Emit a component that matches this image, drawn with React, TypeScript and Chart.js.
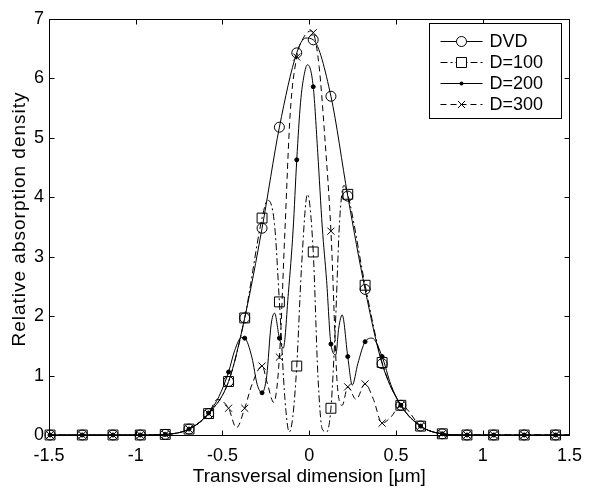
import React, { useEffect, useRef } from 'react';
import { Chart, registerables } from 'chart.js';

Chart.register(...registerables);

// ---- data ----
const seriesNames = ['DVD', 'D=100', 'D=200', 'D=300'];
const xTitle = 'Transversal dimension [μm]';
const yTitle = 'Relative absorption density';

const markerX = [-1.494, -1.308, -1.131, -0.974, -0.83, -0.693, -0.58, -0.465, -0.372, -0.272, -0.172, -0.072, 0.023, 0.125, 0.222, 0.322, 0.42, 0.528, 0.642, 0.767, 0.909, 1.063, 1.239, 1.42];

const dvdMarkers = [0, 0, 0, 0, 0.01, 0.1, 0.36, 0.9, 1.97, 3.48, 5.18, 6.43, 6.65, 5.7, 4.02, 2.45, 1.2, 0.5, 0.15, 0.02, 0, 0, 0, 0];
const d100Markers = [0, 0, 0, 0, 0.01, 0.1, 0.36, 0.9, 1.97, 3.65, 2.24, 1.16, 3.08, 0.45, 4.05, 2.52, 1.22, 0.5, 0.15, 0.02, 0, 0, 0, 0];
const d200Markers = [0, 0, 0, 0, 0.01, 0.1, 0.37, 1.06, 1.63, 0.71, 1.63, 4.63, 5.86, 1.53, 1.32, 1.57, 1.32, 0.5, 0.15, 0.02, 0, 0, 0, 0];
const d300Markers = [0, 0, 0, 0, 0.01, 0.1, 0.36, 0.45, 0.45, 1.16, 1.31, 6.36, 6.77, 3.43, 0.81, 0.86, 0.2, 0.5, 0.15, 0.02, 0, 0, 0, 0];

const dvdLineX = [-1.5, -1.308, -1.131, -0.974, -0.83, -0.693, -0.58, -0.465, -0.372, -0.272, -0.172, -0.072, -0.02, 0.023, 0.125, 0.222, 0.322, 0.42, 0.528, 0.642, 0.767, 0.909, 1.063, 1.239, 1.5];
const dvdLineY = [0, 0, 0, 0, 0.01, 0.1, 0.36, 0.9, 1.97, 3.48, 5.18, 6.43, 6.68, 6.65, 5.7, 4.02, 2.45, 1.2, 0.5, 0.15, 0.02, 0, 0, 0, 0];

const d100LineX = [-1.5, -1.308, -1.131, -0.974, -0.83, -0.693, -0.58, -0.465, -0.372, -0.272, -0.24, -0.2, -0.172, -0.14, -0.115, -0.095, -0.072, -0.045, -0.01, 0.023, 0.05, 0.075, 0.1, 0.125, 0.15, 0.175, 0.2, 0.222, 0.322, 0.42, 0.528, 0.642, 0.767, 0.909, 1.063, 1.239, 1.5];
const d100LineY = [0, 0, 0, 0, 0.01, 0.1, 0.36, 0.9, 1.97, 3.65, 3.95, 3.54, 2.24, 0.6, 0.05, 0.3, 1.16, 2.8, 4.05, 3.08, 1.0, 0.1, 0.05, 0.45, 1.8, 3.6, 4.2, 4.05, 2.52, 1.22, 0.5, 0.15, 0.02, 0, 0, 0, 0];

const d200LineX = [-1.5, -1.308, -1.131, -0.974, -0.83, -0.693, -0.58, -0.52, -0.465, -0.43, -0.39, -0.372, -0.33, -0.3, -0.272, -0.245, -0.22, -0.2, -0.172, -0.15, -0.12, -0.093, -0.072, -0.05, -0.03, -0.01, 0.023, 0.049, 0.075, 0.1, 0.125, 0.153, 0.17, 0.19, 0.222, 0.248, 0.28, 0.322, 0.362, 0.42, 0.47, 0.528, 0.642, 0.767, 0.909, 1.063, 1.239, 1.5];
const d200LineY = [0, 0, 0, 0, 0.01, 0.1, 0.37, 0.65, 1.06, 1.42, 1.64, 1.63, 1.3, 0.85, 0.71, 1.0, 1.85, 2.05, 1.63, 1.46, 2.4, 3.45, 4.63, 5.6, 6.05, 6.23, 5.86, 4.75, 3.5, 2.6, 1.53, 1.35, 1.8, 2.02, 1.32, 0.84, 1.2, 1.57, 1.63, 1.32, 0.85, 0.5, 0.15, 0.02, 0, 0, 0, 0];

const d300LineX = [-1.5, -1.308, -1.131, -0.974, -0.83, -0.693, -0.58, -0.53, -0.465, -0.42, -0.372, -0.33, -0.272, -0.24, -0.205, -0.172, -0.14, -0.11, -0.072, -0.03, 0.01, 0.023, 0.057, 0.09, 0.125, 0.163, 0.19, 0.222, 0.27, 0.322, 0.37, 0.42, 0.47, 0.528, 0.642, 0.767, 0.909, 1.063, 1.239, 1.5];
const d300LineY = [0, 0, 0, 0, 0.01, 0.1, 0.36, 0.6, 0.45, 0.12, 0.45, 0.85, 1.16, 0.85, 0.55, 1.31, 3.45, 5.4, 6.36, 6.7, 6.8, 6.77, 6.2, 5.0, 3.43, 0.8, 0.5, 0.81, 0.6, 0.86, 0.6, 0.2, 0.3, 0.5, 0.15, 0.02, 0, 0, 0, 0];

const xTicks = [-1.5, -1, -0.5, 0, 0.5, 1, 1.5];
const yTicks = [0, 1, 2, 3, 4, 5, 6, 7];

// ---- styles ----
const FONT = "'Liberation Sans', Arial, sans-serif";
const dashes: number[][] = [[], [7, 3, 2, 3], [], [6, 4]];
const markerStyles = ['circle', 'rect', 'dot', 'cross'];

function pts(xs: number[], ys: number[]) {
  return xs.map((x, i) => ({ x, y: ys[i] }));
}

function drawMarker(ctx: CanvasRenderingContext2D, kind: string, x: number, y: number) {
  ctx.save();
  ctx.setLineDash([]);
  ctx.strokeStyle = '#000';
  ctx.fillStyle = '#000';
  ctx.lineWidth = 1;
  ctx.beginPath();
  if (kind === 'circle') {
    ctx.arc(x, y, 5, 0, Math.PI * 2);
    ctx.fillStyle = '#fff';
    ctx.fill();
    ctx.stroke();
  } else if (kind === 'rect') {
    ctx.rect(x - 5, y - 5, 10, 10);
    ctx.fillStyle = '#fff';
    ctx.fill();
    ctx.stroke();
  } else if (kind === 'dot') {
    ctx.arc(x, y, 2, 0, Math.PI * 2);
    ctx.fill();
  } else {
    ctx.moveTo(x - 3.5, y - 3.5);
    ctx.lineTo(x + 3.5, y + 3.5);
    ctx.moveTo(x + 3.5, y - 3.5);
    ctx.lineTo(x - 3.5, y + 3.5);
    ctx.stroke();
  }
  ctx.restore();
}

const framePlugin = {
  id: 'matlabFrame',
  afterDatasetsDraw(chart: any) {
    const { ctx, chartArea: a, scales } = chart;
    const L = Math.round(a.left) + 0.5;
    const R = Math.round(a.right) + 0.5;
    const T = Math.round(a.top) + 0.5;
    const B = Math.round(a.bottom) + 0.5;
    ctx.save();
    ctx.strokeStyle = '#000';
    ctx.lineWidth = 1;
    ctx.setLineDash([]);
    ctx.beginPath();
    ctx.rect(L, T, R - L, B - T);
    const tl = 5;
    xTicks.forEach((v) => {
      const px = Math.round(scales.x.getPixelForValue(v)) + 0.5;
      ctx.moveTo(px, B);
      ctx.lineTo(px, B - tl);
      ctx.moveTo(px, T);
      ctx.lineTo(px, T + tl);
    });
    yTicks.forEach((v) => {
      const py = Math.round(scales.y.getPixelForValue(v)) + 0.5;
      ctx.moveTo(L, py);
      ctx.lineTo(L + tl, py);
      ctx.moveTo(R, py);
      ctx.lineTo(R - tl, py);
    });
    ctx.stroke();

    // y axis title
    ctx.save();
    ctx.translate(20, (a.top + a.bottom) / 2 - 8);
    ctx.rotate(-Math.PI / 2);
    ctx.font = `19px ${FONT}`;
    (ctx as any).letterSpacing = '1px';
    ctx.fillStyle = '#000';
    ctx.textAlign = 'center';
    ctx.textBaseline = 'middle';
    ctx.fillText(yTitle, 0, 0);
    ctx.restore();

    // legend
    const bw = 132;
    const bh = 95;
    const bx = Math.round(a.right - 8 - bw) + 0.5;
    const by = Math.round(a.top + 4) + 0.5;
    ctx.fillStyle = '#fff';
    ctx.fillRect(bx, by, bw, bh);
    ctx.strokeRect(bx, by, bw, bh);
    ctx.font = `18px ${FONT}`;
    ctx.textBaseline = 'middle';
    ctx.textAlign = 'left';
    seriesNames.forEach((name, i) => {
      const ry = Math.round(by + 17 + i * 21.3) + 0.5;
      ctx.save();
      ctx.setLineDash(dashes[i]);
      ctx.beginPath();
      ctx.moveTo(bx + 11, ry);
      ctx.lineTo(bx + 53, ry);
      ctx.stroke();
      ctx.restore();
      drawMarker(ctx, markerStyles[i], bx + 32, ry);
      ctx.fillStyle = '#000';
      ctx.fillText(name, bx + 60, ry + 1);
    });
    ctx.restore();
  },
};

export default function App() {
  const ref = useRef<HTMLCanvasElement | null>(null);
  useEffect(() => {
    if (!ref.current) return;
    const lineSets = [
      pts(dvdLineX, dvdLineY),
      pts(d100LineX, d100LineY),
      pts(d200LineX, d200LineY),
      pts(d300LineX, d300LineY),
    ];
    const markerSets = [dvdMarkers, d100Markers, d200Markers, d300Markers].map((ys) => pts(markerX, ys));
    const pointStyleMap: any = { circle: 'circle', rect: 'rect', dot: 'circle', cross: 'crossRot' };
    const radiusMap: any = { circle: 5, rect: 7, dot: 2, cross: 5 };

    const datasets: any[] = [];
    lineSets.forEach((data, i) => {
      datasets.push({
        label: seriesNames[i],
        data,
        showLine: true,
        borderColor: '#000',
        borderWidth: 1,
        borderDash: dashes[i],
        pointRadius: 0,
        cubicInterpolationMode: 'monotone',
        fill: false,
      });
    });
    markerSets.forEach((data, i) => {
      const k = markerStyles[i];
      datasets.push({
        label: seriesNames[i] + ' markers',
        data,
        showLine: false,
        pointStyle: pointStyleMap[k],
        pointRadius: radiusMap[k],
        pointBorderColor: '#000',
        pointBorderWidth: 1,
        pointBackgroundColor: k === 'dot' ? '#000' : 'rgba(0,0,0,0)',
        clip: false,
      });
    });

    const chart = new Chart(ref.current, {
      type: 'scatter',
      data: { datasets },
      options: {
        animation: false,
        responsive: false,
        devicePixelRatio: 1,
        layout: { padding: { left: 0, right: 15, top: 19, bottom: 0 } },
        plugins: { legend: { display: false }, tooltip: { enabled: false } },
        scales: {
          x: {
            type: 'linear',
            min: -1.5,
            max: 1.5,
            afterFit: (s: any) => { s.height = 54; },
            afterBuildTicks: (s: any) => { s.ticks = xTicks.map((v) => ({ value: v })); },
            ticks: {
              color: '#000',
              padding: 10,
              font: { family: FONT, size: 18 },
              callback: (v: any) => String(v),
            },
            grid: { display: false, drawTicks: false },
            border: { display: false },
            title: {
              display: true,
              text: xTitle,
              color: '#000',
              font: { family: FONT, size: 19 },
              padding: { top: 0, bottom: 1 },
            },
          },
          y: {
            type: 'linear',
            min: 0,
            max: 7,
            afterFit: (s: any) => { s.width = 49; },
            afterBuildTicks: (s: any) => { s.ticks = yTicks.map((v) => ({ value: v })); },
            ticks: {
              color: '#000',
              padding: 5,
              font: { family: FONT, size: 18 },
              callback: (v: any) => String(v),
            },
            grid: { display: false, drawTicks: false },
            border: { display: false },
            title: { display: false },
          },
        },
      },
      plugins: [framePlugin],
    });
    return () => chart.destroy();
  }, []);

  return (
    <div style={{ position: 'absolute', left: 0, top: 0, width: 592, height: 489, background: '#fff' }}>
      <canvas ref={ref} width={592} height={489} style={{ width: 592, height: 489, display: 'block' }} />
    </div>
  );
}
